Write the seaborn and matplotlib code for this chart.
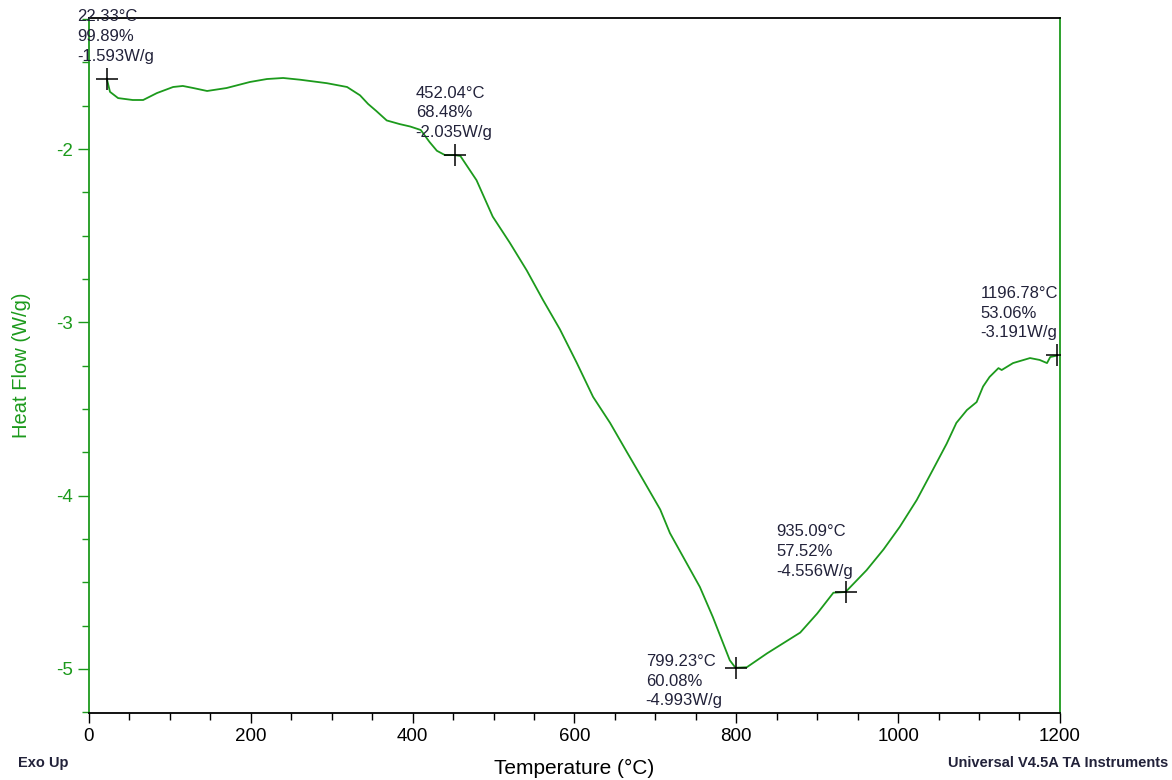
import pandas as pd
import numpy as np
import matplotlib
import matplotlib.pyplot as plt
import seaborn as sns
from matplotlib.ticker import MultipleLocator

matplotlib.use('Agg')

# curve
temp = [22, 26, 36, 54, 67, 84, 104, 116, 129, 146, 170, 199, 220, 240, 261,
        294, 319, 335, 345, 355, 368, 384, 397, 410, 421, 430, 440, 452, 459,
        479, 499, 520, 541, 561, 582, 603, 623, 644, 665, 685, 706, 718, 755,
        771, 792, 799, 813, 838, 879, 900, 920, 935, 961, 982, 1002, 1023,
        1043, 1060, 1072, 1085, 1097, 1105, 1113, 1124, 1128, 1142, 1163,
        1175, 1184, 1188, 1197]
heat = [-1.593, -1.67, -1.706, -1.717, -1.717, -1.677, -1.642, -1.636, -1.648,
        -1.665, -1.648, -1.613, -1.596, -1.59, -1.60, -1.62, -1.642, -1.69,
        -1.74, -1.78, -1.835, -1.856, -1.87, -1.89, -1.96, -2.01, -2.035,
        -2.035, -2.04, -2.18, -2.39, -2.54, -2.70, -2.87, -3.04, -3.235,
        -3.43, -3.58, -3.75, -3.91, -4.08, -4.216, -4.527, -4.70, -4.95,
        -4.993, -4.99, -4.91, -4.79, -4.68, -4.56, -4.556, -4.43, -4.31,
        -4.18, -4.025, -3.85, -3.70, -3.58, -3.506, -3.46, -3.37, -3.315,
        -3.264, -3.275, -3.235, -3.206, -3.217, -3.235, -3.20, -3.191]

# marked points
mark_t = [22.33, 452.04, 799.23, 935.09, 1196.78]
mark_pct = [99.89, 68.48, 60.08, 57.52, 53.06]
mark_hf = [-1.593, -2.035, -4.993, -4.556, -3.191]

df = pd.DataFrame({'temp': temp, 'heat': heat})
marks = pd.DataFrame({'temp': mark_t, 'heat': mark_hf, 'pct': mark_pct})

sns.set_style('white')
plt.rcParams['font.family'] = ['Liberation Sans', 'DejaVu Sans']

green = '#1c9a1c'
txt = '#22223a'

fig = plt.figure(figsize=(11.72, 7.80), dpi=100)
ax = fig.add_axes([0.0759, 0.0859, 0.8285, 0.891])

sns.lineplot(data=df, x='temp', y='heat', sort=False, color=green, lw=1.3, ax=ax)
sns.scatterplot(data=marks, x='temp', y='heat', marker='+', s=260, color='black',
                linewidth=1.1, ax=ax, zorder=5)

# label offsets in pixels (dx, dy, va)
offs = [(-30, 15, 'bottom'), (-39, 15, 'bottom'), (-90, 14, 'top'),
        (-69, 13, 'bottom'), (-77, 15, 'bottom')]
for (t, p, h), (dx, dy, va) in zip(zip(mark_t, mark_pct, mark_hf), offs):
    ax.annotate(f'{t:.2f}°C\n{p:.2f}%\n{h:.3f}W/g', xy=(t, h), xytext=(dx, dy),
                textcoords='offset pixels', ha='left', va=va, fontsize=12,
                color=txt, linespacing=1.4)

ax.set_xlim(0, 1200)
ax.set_ylim(-5.254, -1.244)
ax.xaxis.set_major_locator(MultipleLocator(200))
ax.xaxis.set_minor_locator(MultipleLocator(50))
ax.yaxis.set_major_locator(MultipleLocator(1))
ax.yaxis.set_minor_locator(MultipleLocator(0.25))

ax.tick_params(axis='x', which='both', direction='out', bottom=True, top=False,
               colors='black', labelsize=13.5)
ax.tick_params(axis='x', which='major', length=7, width=1)
ax.tick_params(axis='x', which='minor', length=5, width=1)
ax.tick_params(axis='y', which='both', direction='out', left=True, right=False,
               colors=green, labelsize=13.5)
ax.tick_params(axis='y', which='major', length=8, width=1)
ax.tick_params(axis='y', which='minor', length=5, width=1)
ax.yaxis.set_major_formatter(matplotlib.ticker.FuncFormatter(lambda v, _: f'{v:g}'))

for s in ['left', 'right']:
    ax.spines[s].set_color(green)
    ax.spines[s].set_linewidth(1.3)
for s in ['top', 'bottom']:
    ax.spines[s].set_color('black')
    ax.spines[s].set_linewidth(1.3)

ax.set_xlabel('Temperature (°C)', fontsize=15, color='black', labelpad=10)
ax.set_ylabel('Heat Flow (W/g)', fontsize=14.5, color=green, labelpad=18)

fig.text(18 / 1172, 1 - 763 / 780, 'Exo Up', fontsize=10.5, fontweight='bold',
         color=txt, va='center', ha='left')
fig.text(948 / 1172, 1 - 763 / 780, 'Universal V4.5A TA Instruments', fontsize=10.5,
         fontweight='bold', color=txt, va='center', ha='left')

fig.savefig('out.png', dpi=100)
